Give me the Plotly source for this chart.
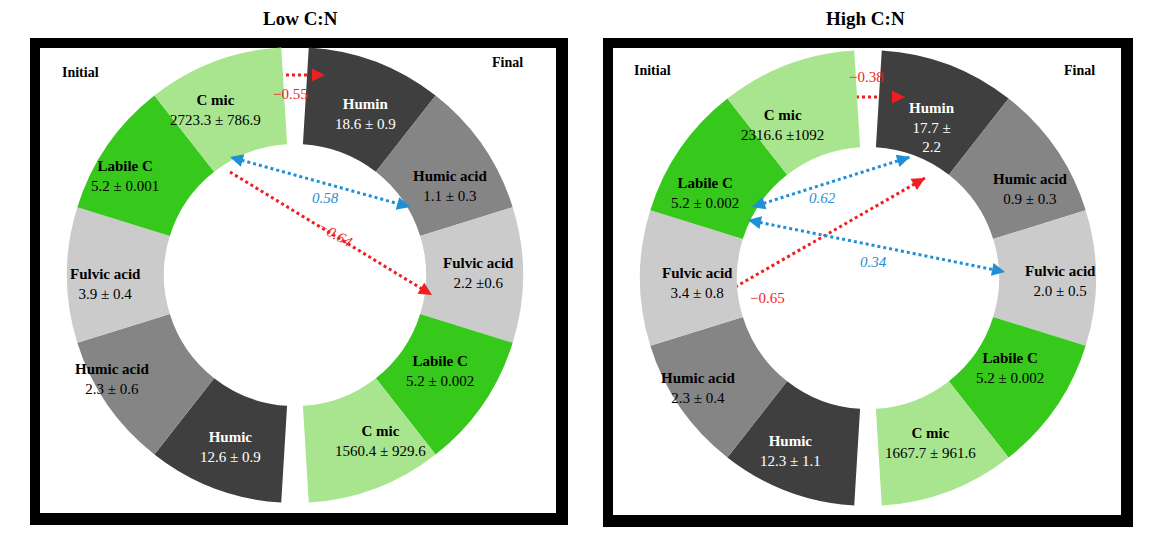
import plotly.graph_objects as go

W, H = 1158, 545
O = 8  # page body margin offset
titles = ["Low C:N", "High C:N"]
final_names = ["Humin", "Humic acid", "Fulvic acid", "Labile C", "C mic"]
init_names = ["Humic", "Humic acid", "Fulvic acid", "Labile C", "C mic"]
low_final = ["18.6 ± 0.9", "1.1 ± 0.3", "2.2 ±0.6", "5.2 ± 0.002", "1560.4 ± 929.6"]
low_init = ["12.6 ± 0.9", "2.3 ± 0.6", "3.9 ± 0.4", "5.2 ± 0.001", "2723.3 ± 786.9"]
high_final = ["17.7 ±<br>2.2", "0.9 ± 0.3", "2.0 ± 0.5", "5.2 ± 0.002", "1667.7 ± 961.6"]
high_init = ["12.3 ± 1.1", "2.3 ± 0.4", "3.4 ± 0.8", "5.2 ± 0.002", "2316.6 ±1092"]
seg_colors = ["#3f3f3f", "#858585", "#cbcbcb", "#36c81a", "#a8e58e"]
GAP = 0.2

fig = go.Figure()

panels = [
    dict(frame=(30, 38, 568, 525), center=(295, 275), r=228,
         init=low_init, final=low_final,
         init_pos=[(230, 447), (112, 379), (105, 284), (125, 176), (215, 110)],
         final_pos=[(365, 114), (450, 186), (478, 273), (440, 371), (380, 441)],
         title_x=300, ilab=(80, 72), flab=(507, 62)),
    dict(frame=(603, 38, 1133, 527), center=(868, 278), r=228,
         init=high_init, final=high_final,
         init_pos=[(790, 451), (698, 388), (697, 283), (705, 193), (782, 125)],
         final_pos=[(932, 127), (1030, 189), (1060, 281), (1010, 368), (930, 443)],
         title_x=865, ilab=(652, 70), flab=(1079, 70)),
]

shapes = []
ann = []
serif = "Liberation Serif"
for k, p in enumerate(panels):
    x0, y0, x1, y1 = p["frame"]
    shapes.append(dict(type="rect", xref="x", yref="y", x0=x0, y0=y0, x1=x1, y1=y1,
                       fillcolor="black", line_width=0, layer="below"))
    shapes.append(dict(type="rect", xref="x", yref="y", x0=x0 + 10, y0=y0 + 10, x1=x1 - 12, y1=y1 - 12,
                       fillcolor="white", line_width=0, layer="below"))
    cx, cy = p["center"]; r = p["r"]
    vals = [GAP / 2] + [1] * 5 + [GAP] + [1] * 5 + [GAP / 2]
    cols = ["rgba(0,0,0,0)"] + seg_colors + ["rgba(0,0,0,0)"] + seg_colors + ["rgba(0,0,0,0)"]
    fig.add_trace(go.Pie(values=vals, sort=False, direction="clockwise", rotation=0,
                         hole=0.575, marker=dict(colors=cols, line=dict(color="white", width=0)),
                         textinfo="none", hoverinfo="skip", showlegend=False,
                         domain=dict(x=[(cx - r - O) / W, (cx + r - O) / W],
                                     y=[1 - (cy + r - O) / H, 1 - (cy - r - O) / H])))
    for names, values, poss in [(final_names, p["final"], p["final_pos"]), (init_names, p["init"], p["init_pos"])]:
        for i, (n, v, (tx, ty)) in enumerate(zip(names, values, poss)):
            c = "white" if i == 0 else "black"
            ann.append(dict(x=tx, y=ty, xref="x", yref="y", showarrow=False,
                            text=f"<b>{n}</b><br>{v}", font=dict(family=serif, size=15, color=c)))
    ann.append(dict(x=p["title_x"], y=18, xref="x", yref="y", showarrow=False, text=f"<b>{titles[k]}</b>",
                    font=dict(family=serif, size=19, color="black")))
    ann.append(dict(x=p["ilab"][0], y=p["ilab"][1], xref="x", yref="y", showarrow=False, text="<b>Initial</b>",
                    font=dict(family=serif, size=14, color="black")))
    ann.append(dict(x=p["flab"][0], y=p["flab"][1], xref="x", yref="y", showarrow=False, text="<b>Final</b>",
                    font=dict(family=serif, size=14, color="black")))

RED, BLUE = "#f01e1e", "#1f8fd6"
arrows = [
    ((262, 75), (325, 75), False, RED, "−0.55", (290, 94), 0),
    ((230, 157), (410, 207), True, BLUE, "0.58", (325, 198), 0),
    ((230, 172), (432, 295), False, RED, "−0.64", (335, 234), 30),
    ((838, 97), (905, 97), False, RED, "−0.38", (866, 77), 0),
    ((752, 207), (910, 157), True, BLUE, "0.62", (822, 198), 0),
    ((730, 290), (925, 178), False, RED, "−0.65", (767, 298), 0),
    ((748, 220), (1005, 272), True, BLUE, "0.34", (873, 262), 0),
]
for (sx, sy), (ex, ey), dbl, col, lab, (lx, ly), ang in arrows:
    fig.add_trace(go.Scatter(x=[sx, ex], y=[sy, ey], mode="lines", xaxis="x", yaxis="y",
                             line=dict(color=col, width=3, dash="dot"), hoverinfo="skip", showlegend=False))
    ends = [((sx, sy), (ex, ey))]
    if dbl:
        ends.append(((ex, ey), (sx, sy)))
    for (ax_, ay_), (bx, by) in ends:
        dx, dy = bx - ax_, by - ay_
        L = (dx * dx + dy * dy) ** 0.5
        ann.append(dict(x=bx, y=by, ax=bx - dx / L * 8, ay=by - dy / L * 8, xref="x", yref="y",
                        axref="x", ayref="y", showarrow=True, arrowhead=2, arrowsize=1.3,
                        arrowwidth=2, arrowcolor=col, text=""))
    ann.append(dict(x=lx, y=ly, xref="x", yref="y", showarrow=False,
                    text=f"<i>{lab}</i>" if col == BLUE or ang else lab,
                    textangle=ang, font=dict(family=serif, size=15, color=col)))

fig.update_layout(width=W, height=H, margin=dict(l=0, r=0, t=0, b=0),
                  paper_bgcolor="white", plot_bgcolor="rgba(0,0,0,0)",
                  xaxis=dict(range=[O, W + O], visible=False, fixedrange=True),
                  yaxis=dict(range=[H + O, O], visible=False, fixedrange=True),
                  shapes=shapes, annotations=ann)
fig.write_html("out.html")
